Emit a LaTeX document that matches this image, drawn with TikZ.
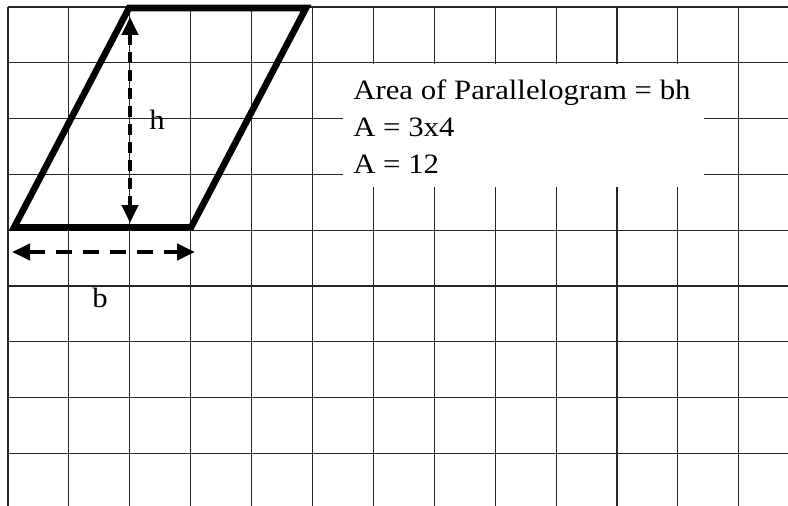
\documentclass[tikz,border=0pt]{standalone}
\usepackage{fontspec}
\setmainfont{Liberation Serif}
\usetikzlibrary{arrows.meta}
\begin{document}
\begin{tikzpicture}[x=0.75pt,y=-0.75pt,
  gridline/.style={black!85,line width=0.8pt},
  lbl/.style={inner sep=0pt,anchor=base west,xscale=1.1,font=\fontsize{21}{25}\selectfont},
  pgramline/.style={line width=4.9pt,line join=miter},
  dimarrow/.style={line width=3.2pt,{Triangle[length=13.5pt,width=12pt]}-{Triangle[length=13.5pt,width=12pt]}}
]
\useasboundingbox (0,0) rectangle (788,506);
\fill[white] (0,0) rectangle (788,506);
% grid
\foreach \i in {0,...,12}
  \draw[gridline] ({8+60.9*\i},7) -- ({8+60.9*\i},506);
\foreach \j in {0,...,8}
  \draw[gridline] (8,{7+55.8*\j}) -- (788,{7+55.8*\j});
% text box
\fill[white] (343,64.5) rectangle (704,187);
\node[lbl] (t1) at (353,100) {Area of Parallelogram = bh};
\node[lbl] (t2) at (353,137) {A = 3x4};
\node[lbl] (t3) at (353,173) {A = 12};
% parallelogram
\coordinate (BL) at (14,227.5);
\coordinate (BR) at (191,227.5);
\coordinate (TR) at (306,8);
\coordinate (TL) at (129,8);
\draw[pgramline] (BL) -- (BR) -- (TR) -- (TL) -- cycle;
% height arrow
\coordinate (vtop) at (130,17);
\coordinate (vbot) at (130,223);
\draw[dimarrow,dash pattern=on 8.25pt off 5.25pt] (vtop) -- (vbot);
\node[lbl] (lh) at (149,130) {h};
% base arrow
\coordinate (hl) at (12,252);
\coordinate (hr) at (195,252);
\draw[dimarrow,dash pattern=on 12pt off 8.25pt] (hl) -- (hr);
\node[lbl] (lb) at (92,307) {b};
\end{tikzpicture}
\end{document}
